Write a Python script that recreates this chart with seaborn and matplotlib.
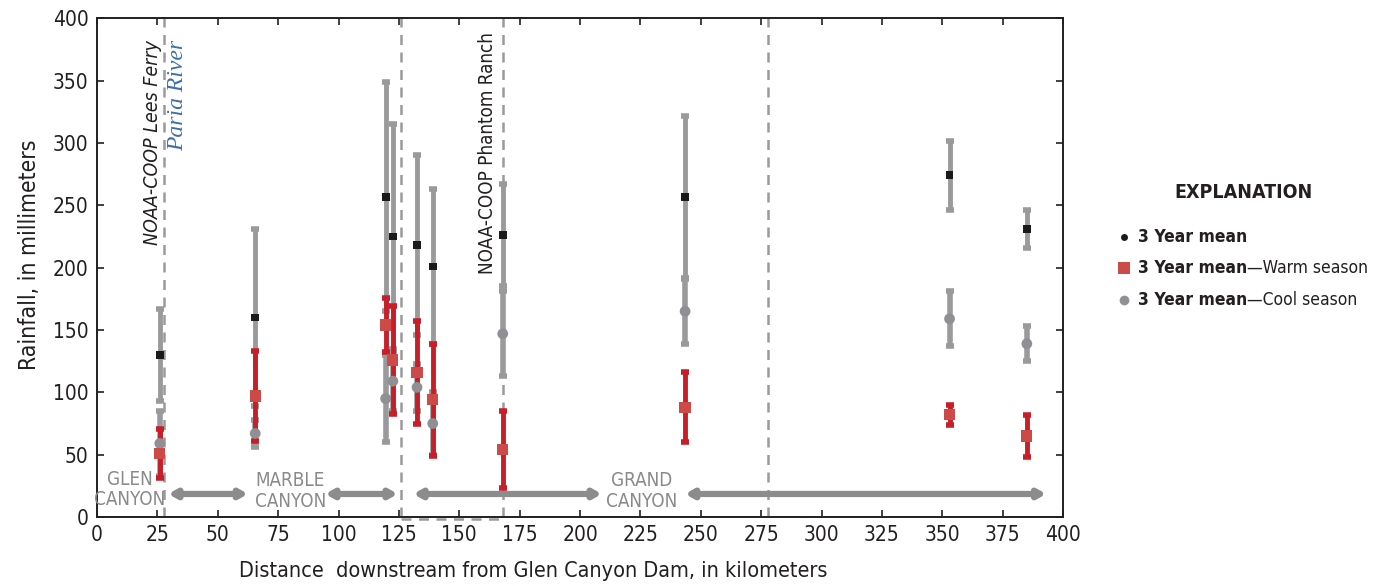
import numpy as np
import pandas as pd
import matplotlib
matplotlib.use("Agg")
import matplotlib.pyplot as plt
import seaborn as sns

# Gauge locations (km downstream of Glen Canyon Dam)
distance_km = [26, 65.5, 119.5, 122.5, 132.5, 139, 168, 243.5, 353, 385]

# 3-year mean rainfall (mm) and error half-widths
total_mean = [130, 160, 257, 225, 218, 201, 226, 257, 274, 231]
total_err = [37, 71, 92, 90, 72, 62, 41, 65, 28, 15]
warm_mean = [51, 97, 154, 126, 116, 94, 54, 88, 82, 65]
warm_err = [20, 36, 22, 43, 41, 45, 31, 28, 8, 17]
cool_mean = [59, 67, 95, 109, 104, 75, 147, 165, 159, 139]
cool_err = [26, 11, 35, 24, 19, 25, 34, 26, 22, 14]

x_ticks = list(range(0, 401, 25))
y_ticks = list(range(0, 401, 50))

sns.set_theme(style="ticks")
plt.rcParams["font.family"] = ["DejaVu Sans"]
plt.rcParams["font.stretch"] = "condensed"

GRAY = "#9a9a9c"
RED = "#c81e28"
RED_MK = "#cc4a48"
TXT = "#231f20"

df = pd.DataFrame({
    "km": distance_km * 3,
    "rain": total_mean + warm_mean + cool_mean,
    "series": (["total"] * len(distance_km) + ["warm"] * len(distance_km)
               + ["cool"] * len(distance_km)),
})

fig = plt.figure(figsize=(13.86, 5.86), dpi=100)
ax = fig.add_axes([0.070, 0.1177, 0.697, 0.851])

# station reference lines
for xv in [27.7, 126, 168, 278]:
    ax.axvline(xv, color=GRAY, ls=(0, (4, 3)), lw=1.8, zorder=1)
ax.plot([126, 168], [-1.6, -1.6], color=GRAY, ls=(0, (4, 3)), lw=1.8,
        clip_on=False, zorder=1)

# error bars
ax.errorbar(distance_km, total_mean, yerr=total_err, fmt="none", ecolor=GRAY,
            elinewidth=3.5, capsize=3, capthick=4, zorder=2)
ax.errorbar(distance_km, cool_mean, yerr=cool_err, fmt="none", ecolor=GRAY,
            elinewidth=4, capsize=3, capthick=4, zorder=3)
ax.errorbar(distance_km, warm_mean, yerr=warm_err, fmt="none", ecolor=RED,
            elinewidth=3.5, capsize=3, capthick=4, zorder=4)

# mean markers
sns.scatterplot(data=df[df.series == "cool"], x="km", y="rain", ax=ax,
                marker="o", s=60, color="#8f9093", edgecolor="none",
                zorder=5, legend=False)
sns.scatterplot(data=df[df.series == "warm"], x="km", y="rain", ax=ax,
                marker="s", s=65, color=RED_MK, edgecolor="none",
                zorder=6, legend=False)
sns.scatterplot(data=df[df.series == "total"], x="km", y="rain", ax=ax,
                marker="s", s=32, color="#1a1a1a", edgecolor="none",
                zorder=7, legend=False)

# canyon reaches
arrow_y = 18.5
for x0, x1 in [(29.5, 62.5), (94.5, 124.5), (131, 209), (243.5, 393)]:
    ax.annotate("", xy=(x1, arrow_y), xytext=(x0, arrow_y),
                arrowprops=dict(arrowstyle="<|-|>,head_length=0.35,head_width=0.2",
                                color="#8c8c8e", lw=4.5, shrinkA=0, shrinkB=0),
                zorder=2)
canyon_kw = dict(color="#8a8a8c", fontsize=13.5, ha="center", va="center",
                 linespacing=1.1, zorder=3)
ax.text(13.5, 22, "GLEN\nCANYON", **canyon_kw)
ax.text(80, 21, "MARBLE\nCANYON", **canyon_kw)
ax.text(225.5, 21, "GRAND\nCANYON", **canyon_kw)

# station names
ax.text(23.0, 383, "NOAA-COOP Lees Ferry", rotation=90, ha="center", va="top",
        fontsize=14, fontstyle="italic", color=TXT)
ax.text(33.5, 383, "Paria River", rotation=90, ha="center", va="top",
        fontsize=17, fontstyle="italic", color="#3b6eae",
        family=["Liberation Serif", "DejaVu Serif"], stretch="normal")
ax.text(161.5, 389, "NOAA-COOP Phantom Ranch", rotation=90, ha="center",
        va="top", fontsize=13.5, color=TXT)

ax.set_xlim(0, 400)
ax.set_ylim(0, 400)
ax.set_xticks(x_ticks)
ax.set_yticks(y_ticks)
ax.tick_params(direction="in", top=True, right=True, length=5, width=1.2,
               labelsize=15, colors=TXT, pad=6)
for sp in ax.spines.values():
    sp.set_visible(True)
    sp.set_color("#231f20")
    sp.set_linewidth(1.4)
ax.set_xlabel("Distance  downstream from Glen Canyon Dam, in kilometers",
              fontsize=15.5, color=TXT)
ax.xaxis.set_label_coords(0.452, -0.088)
ax.set_ylabel("Rainfall, in millimeters", fontsize=16.5, color=TXT)
ax.yaxis.set_label_coords(-0.0575, 0.525)
ax.grid(False)

# explanation panel
fig.text(1244 / 1386, 1 - 193 / 586, "EXPLANATION", ha="center", va="center",
         fontsize=14, fontweight="bold", color=TXT)
rows = [
    (237, "o", "#1a1a1a", 5, "3 Year mean", ""),
    (268, "s", RED_MK, 8, "3 Year mean", "\u2014Warm season"),
    (300, "o", "#8f9093", 7, "3 Year mean", "\u2014Cool season"),
]
for ypx, mk, col, ms, bold, rest in rows:
    yf = 1 - ypx / 586
    fig.lines.append(plt.Line2D([1124 / 1386], [yf], marker=mk, color=col,
                                markersize=ms, markeredgewidth=0,
                                transform=fig.transFigure, figure=fig))
    t = fig.text(1138 / 1386, yf, bold, ha="left", va="center", fontsize=12.5,
                 fontweight="bold", color=TXT)
    if rest:
        fig.canvas.draw()
        bb = t.get_window_extent()
        fig.text(bb.x1 / fig.bbox.width, yf, rest, ha="left", va="center",
                 fontsize=12.5, color=TXT)

fig.savefig("out.png", dpi=100)
